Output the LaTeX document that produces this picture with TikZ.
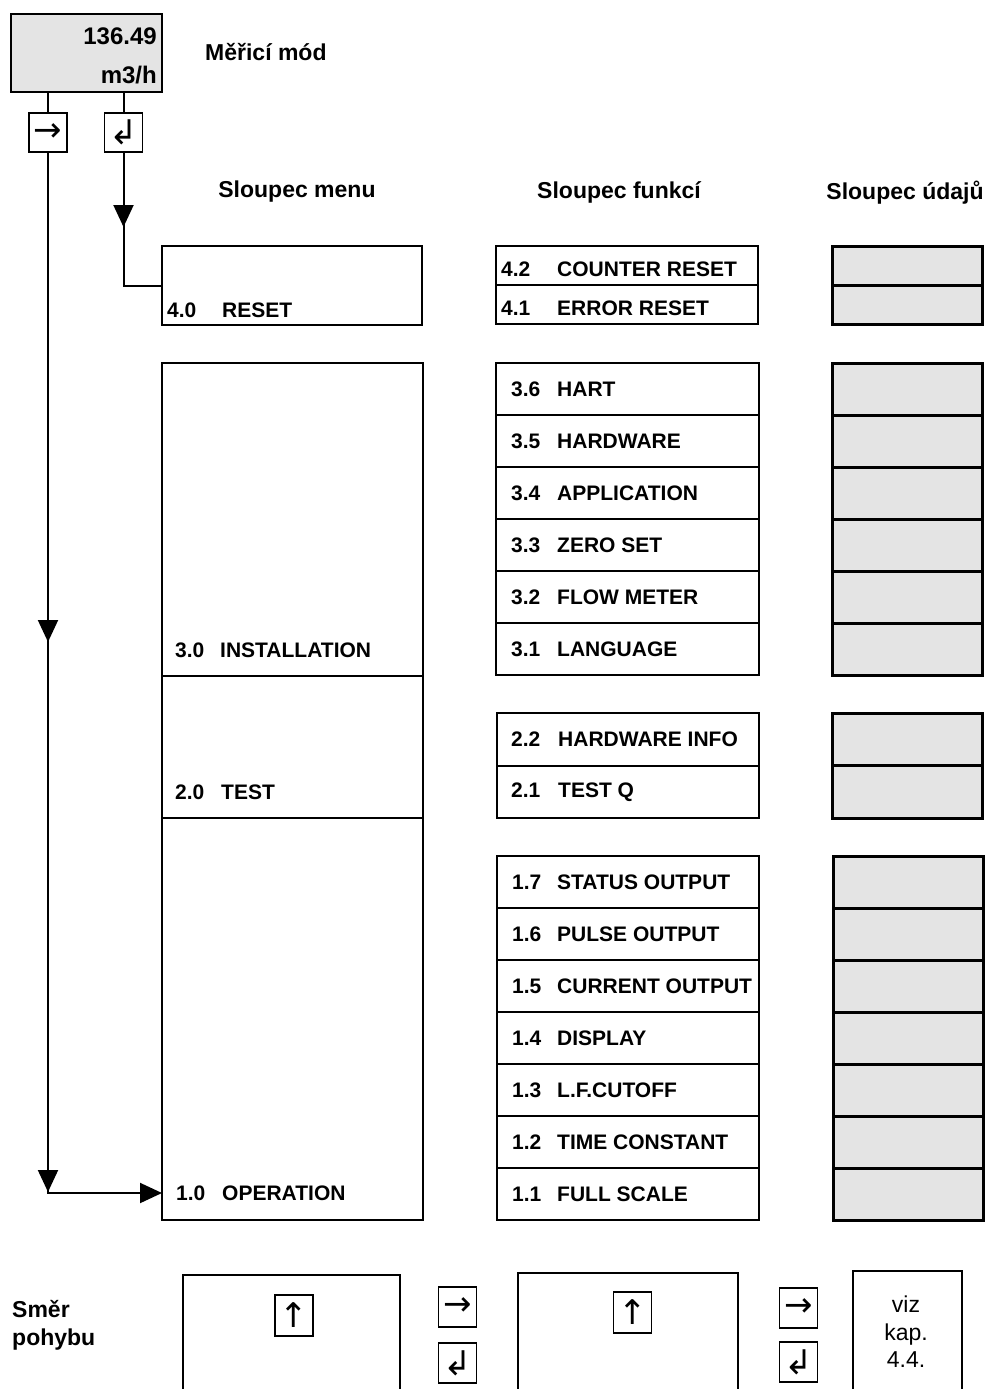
\documentclass[tikz,border=0pt]{standalone}
\usepackage{fontspec}
\setmainfont{Liberation Sans}
\newfontfamily\symfont{DejaVu Sans}
\usetikzlibrary{arrows.meta,decorations.markings}
\definecolor{datagray}{RGB}{228,228,228}
\definecolor{dispgray}{RGB}{228,228,228}
\tikzset{
  lbl/.style={font=\fontsize{21}{25}\selectfont\bfseries, anchor=west, inner sep=0pt},
  hdr/.style={font=\fontsize{23}{27}\selectfont\bfseries, inner sep=0pt, anchor=base},
  frame/.style={draw, line width=2pt, inner sep=0pt, outer sep=0pt, anchor=north west},
  datacell/.style={draw, line width=3pt, fill=datagray, inner sep=0pt, outer sep=0pt, anchor=north west, minimum width=150pt},
  keybox/.style={draw, line width=1.5pt, minimum width=38pt, minimum height=39pt, inner sep=0pt, outer sep=0pt, font=\symfont\fontsize{34}{34}\selectfont},
  conn/.style={line width=2pt},
  tri/.tip={Triangle[length=22pt,width=20pt]}
}
\begin{document}
\begin{tikzpicture}[x=1pt,y=-1pt]
\useasboundingbox (0,0) rectangle (986,1389);
\clip (0,0) rectangle (986,1389);

% display
\node[frame, line width=2.5pt, fill=dispgray, minimum width=151pt, minimum height=78pt] (disp) at (11,14) {};
\node[font=\fontsize{24}{28}\selectfont\bfseries, anchor=base east, inner sep=0pt] (dval) at (157,45) {136.49};
\node[font=\fontsize{24}{28}\selectfont\bfseries, anchor=base east, inner sep=0pt] (dunit) at (157,83) {m3/h};
\node[hdr, anchor=base west] (mode) at (205,60) {Měřicí mód};

% keys under display
\node[keybox] (bL) at (48,132.5) {→};
\node[keybox] (bR) at (123.5,132.5) {↲};
\draw[conn] (bL |- disp.south) -- (bL.north);
\draw[conn] (bR |- disp.south) -- (bR.north);

% headers
\node[hdr] (h1) at (297,197) {Sloupec menu};
\node[hdr] (h2) at (619,198) {Sloupec funkcí};
\node[hdr] (h3) at (905,199) {Sloupec údajů};

% menu column
\node[frame, minimum width=260pt, minimum height=79pt] (reset) at (162,246) {};
\node[lbl] (treset) at (167,310) {\makebox[55pt][l]{4.0}RESET};
\node[frame, minimum width=261pt, minimum height=313pt] (inst) at (162,363) {};
\node[frame, minimum width=261pt, minimum height=142pt] (test) at (162,676) {};
\node[frame, minimum width=261pt, minimum height=402pt] (oper) at (162,818) {};
\node[lbl] (tinst) at (175,650) {\makebox[45pt][l]{3.0}INSTALLATION};
\node[lbl] (ttest) at (175,792) {\makebox[46pt][l]{2.0}TEST};
\node[lbl] (toper) at (176,1193) {\makebox[46pt][l]{1.0}OPERATION};

% function column
\foreach \n/\t [count=\k from 0] in {4.2/COUNTER RESET,4.1/ERROR RESET}{
  \node[frame, minimum width=262pt, minimum height=39pt] (f4\k) at (496,246+39*\k) {};
  \node[lbl] at ([xshift=5pt,yshift=-4pt]f4\k.west) {\makebox[56pt][l]{\n}\t};
  \node[datacell, minimum height=39pt] (d4\k) at (832,246+39*\k) {};
}
\foreach \n/\t [count=\k from 0] in {3.6/HART,3.5/HARDWARE,3.4/APPLICATION,3.3/ZERO SET,3.2/FLOW METER,3.1/LANGUAGE}{
  \node[frame, minimum width=263pt, minimum height=52pt] (f3\k) at (496,363+52*\k) {};
  \node[lbl] at ([xshift=15pt]f3\k.west) {\makebox[46pt][l]{\n}\t};
  \node[datacell, minimum height=52pt] (d3\k) at (832,363+52*\k) {};
}
\foreach \n/\t [count=\k from 0] in {2.2/HARDWARE INFO,2.1/TEST Q}{
  \node[frame, minimum width=262pt, minimum height=52.5pt] (f2\k) at (497,713+52.5*\k) {};
  \node[lbl] at ([xshift=14pt]f2\k.west) {\makebox[47pt][l]{\n}\t};
  \node[datacell, minimum height=52.5pt] (d2\k) at (832,713+52.5*\k) {};
}
\foreach \n/\t [count=\k from 0] in {1.7/STATUS OUTPUT,1.6/PULSE OUTPUT,1.5/CURRENT OUTPUT,1.4/DISPLAY,1.3/L.F.CUTOFF,1.2/TIME CONSTANT,1.1/FULL SCALE}{
  \node[frame, minimum width=262pt, minimum height=52pt] (f1\k) at (497,856+52*\k) {};
  \node[lbl] at ([xshift=15pt]f1\k.west) {\makebox[45pt][l]{\n}\t};
  \node[datacell, minimum height=52pt] (d1\k) at (833,856+52*\k) {};
}

% connectors
\coordinate (opin) at (162,1193);
\draw[conn, postaction={decorate}, decoration={markings,
   mark=at position 75pt with {\arrow{tri}}}]
   (bR.south) |- (reset.west);
\draw[conn, -{tri}, postaction={decorate}, decoration={markings,
   mark=at position 490pt with {\arrow{tri}},
   mark=at position 1040pt with {\arrow{tri}}}]
   (bL.south) |- (opin);

% bottom legend
\node[hdr, anchor=base west] (smer) at (12,1317) {Směr};
\node[hdr, anchor=base west] (pohyb) at (12,1345) {pohybu};
\node[frame, minimum width=217pt, minimum height=200pt] (m1) at (183,1275) {};
\node[keybox, minimum height=41pt] (u1) at (294,1315.5) {↑};
\node[keybox, minimum height=40pt] (r1) at (457.5,1307) {→};
\node[keybox, minimum height=40pt] (e1) at (457.5,1363) {↲};
\node[frame, minimum width=220pt, minimum height=200pt] (m2) at (518,1273) {};
\node[keybox, minimum height=41pt] (u2) at (632.5,1312.5) {↑};
\node[keybox, minimum height=40pt] (r2) at (798.5,1308) {→};
\node[keybox, minimum height=40pt] (e2) at (798.5,1362) {↲};
\node[frame, minimum width=109pt, minimum height=200pt] (m3) at (853,1271) {};
\node[font=\fontsize{23}{27.5}\selectfont, align=center, anchor=north, inner sep=0pt] (viz) at (906,1296) {viz\\kap.\\4.4.};
\end{tikzpicture}
\end{document}
